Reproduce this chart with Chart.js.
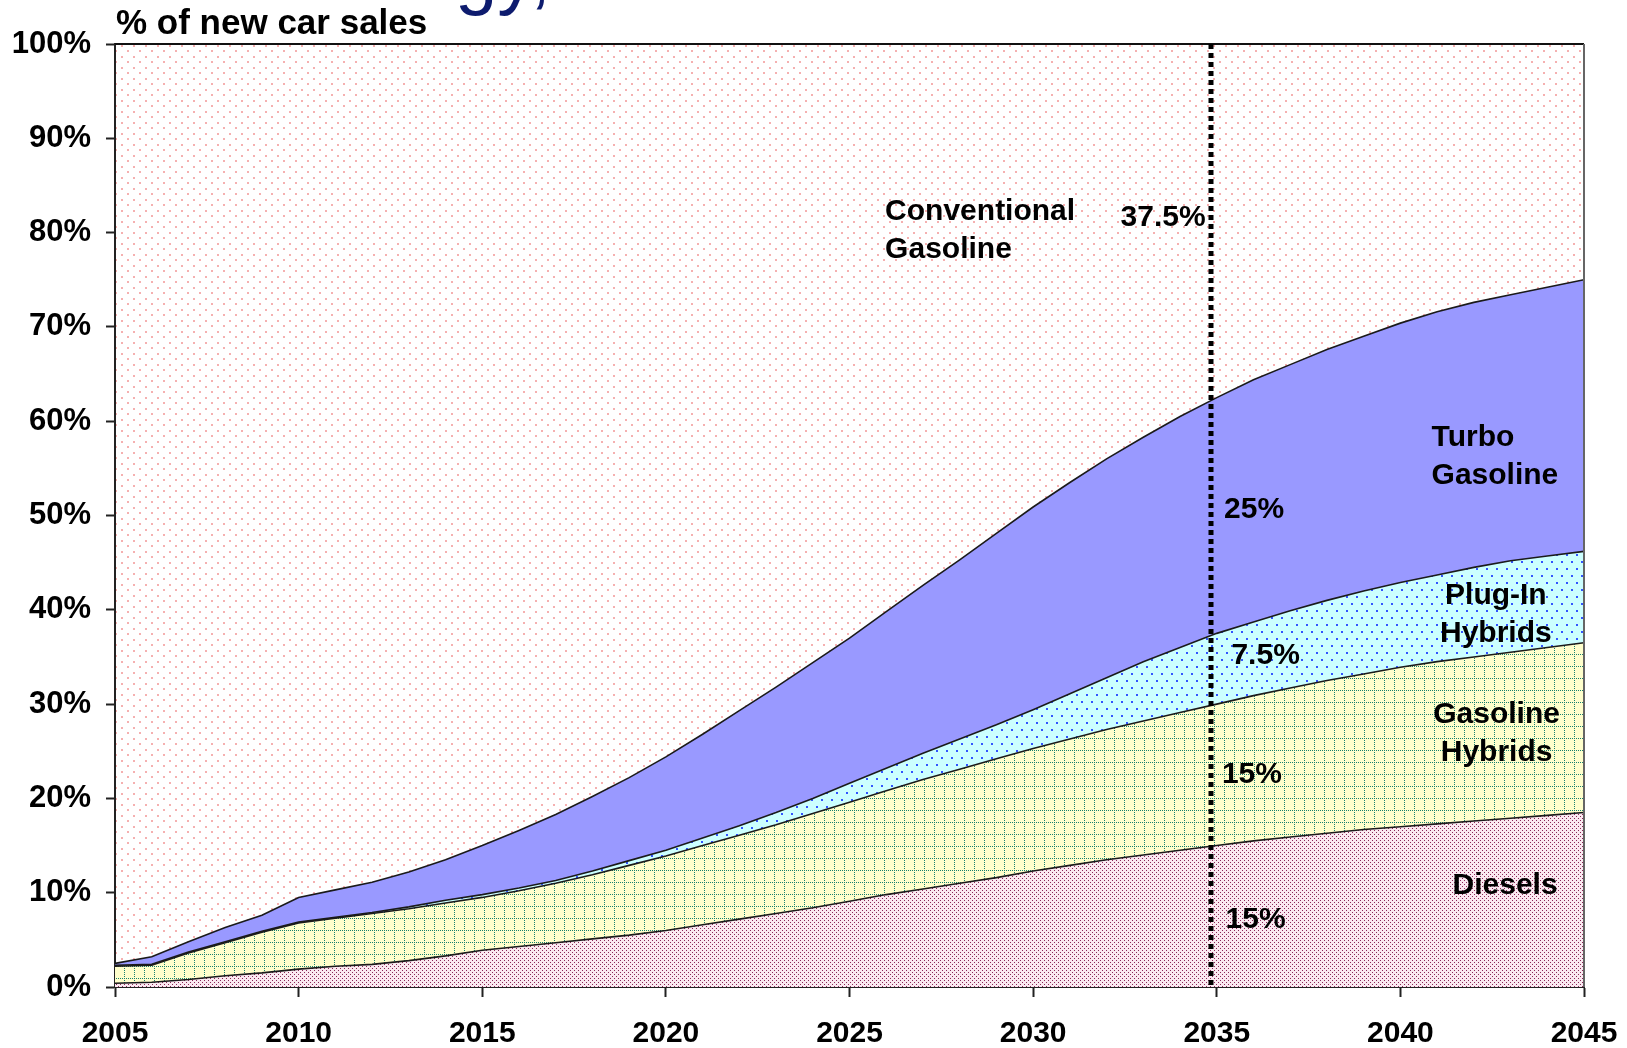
<!DOCTYPE html>
<html>
<head>
<meta charset="utf-8">
<title>% of new car sales</title>
<script src="https://cdn.jsdelivr.net/npm/chart.js@4.4.1/dist/chart.umd.min.js"></script>
<style>
  html, body { margin: 0; padding: 0; background: #fff; }
  #wrap { width: 1627px; height: 1048px; }
</style>
</head>
<body>
<div id="wrap"><canvas id="chart" width="1627" height="1048"></canvas></div>
<script>
var years = [2005, 2006, 2007, 2008, 2009, 2010, 2011, 2012, 2013, 2014,
             2015, 2016, 2017, 2018, 2019, 2020, 2021, 2022, 2023, 2024,
             2025, 2026, 2027, 2028, 2029, 2030, 2031, 2032, 2033, 2034,
             2035, 2036, 2037, 2038, 2039, 2040, 2041, 2042, 2043, 2044, 2045];

// share of new car sales, %
var diesels = [0.4, 0.5, 0.8, 1.2, 1.5, 1.9, 2.2, 2.4, 2.8, 3.3,
               3.9, 4.3, 4.7, 5.1, 5.5, 6.0, 6.6, 7.2, 7.8, 8.4,
               9.1, 9.8, 10.4, 11.0, 11.6, 12.3, 12.9, 13.5, 14.0, 14.5,
               15.0, 15.5, 15.9, 16.3, 16.7, 17.0, 17.3, 17.6, 17.9, 18.2, 18.5];
var gasolineHybrids = [1.8, 1.8, 2.8, 3.5, 4.3, 4.9, 5.1, 5.4, 5.5, 5.6,
                       5.6, 5.9, 6.3, 6.8, 7.4, 7.9, 8.4, 8.9, 9.4, 10.0,
                       10.5, 11.0, 11.6, 12.1, 12.6, 13.0, 13.4, 13.8, 14.2, 14.6,
                       15.0, 15.4, 15.8, 16.2, 16.5, 16.9, 17.2, 17.4, 17.6, 17.8, 18.0];
var plugInHybrids = [0.1, 0.1, 0.1, 0.1, 0.1, 0.1, 0.1, 0.1, 0.2, 0.3,
                     0.3, 0.3, 0.3, 0.4, 0.5, 0.6, 0.8, 1.0, 1.3, 1.6,
                     2.0, 2.4, 2.8, 3.2, 3.6, 4.1, 4.8, 5.5, 6.3, 6.9,
                     7.5, 7.8, 8.2, 8.5, 8.8, 9.0, 9.2, 9.5, 9.7, 9.7, 9.7];
var turboGasoline = [0.2, 0.8, 1.1, 1.5, 1.7, 2.6, 2.9, 3.2, 3.7, 4.3,
                     5.2, 6.1, 7.0, 7.9, 8.8, 9.9, 11.0, 12.2, 13.3, 14.4,
                     15.4, 16.6, 17.8, 19.0, 20.3, 21.5, 22.4, 23.2, 23.8, 24.5,
                     25.0, 25.7, 26.1, 26.6, 27.0, 27.5, 27.9, 28.1, 28.2, 28.5, 28.8];

var xTicks = [2005, 2010, 2015, 2020, 2025, 2030, 2035, 2040, 2045];
var yTicks = [0, 10, 20, 30, 40, 50, 60, 70, 80, 90, 100];
var markerYear = 2034.85;

var notes = [
  { lines: ['Conventional', 'Gasoline'], x: 2025.97, y: 82.5, align: 'left' },
  { lines: ['37.5%'], x: 2032.38, y: 81.9, align: 'left' },
  { lines: ['Turbo', 'Gasoline'], x: 2040.85, y: 58.6, align: 'left' },
  { lines: ['25%'], x: 2035.2, y: 50.9, align: 'left' },
  { lines: ['Plug-In', 'Hybrids'], x: 2042.6, y: 41.8, align: 'center' },
  { lines: ['7.5%'], x: 2035.4, y: 35.5, align: 'left' },
  { lines: ['Gasoline', 'Hybrids'], x: 2042.62, y: 29.2, align: 'center' },
  { lines: ['15%'], x: 2035.14, y: 22.8, align: 'left' },
  { lines: ['Diesels'], x: 2041.42, y: 11.1, align: 'left' },
  { lines: ['15%'], x: 2035.24, y: 7.4, align: 'left' }
];

var FONT = '"Liberation Sans", Arial, sans-serif';
var canvas = document.getElementById('chart');
var mainCtx = canvas.getContext('2d');

function pattern(w, h, bg, paint) {
  var c = document.createElement('canvas');
  c.width = w;
  c.height = h;
  var g = c.getContext('2d');
  if (bg) { g.fillStyle = bg; g.fillRect(0, 0, w, h); }
  paint(g);
  return mainCtx.createPattern(c, 'repeat');
}

var conventionalFill = pattern(12, 11, '#ffffff', function (g) {
  g.fillStyle = '#f5b0b0';
  g.fillRect(1, 1, 2, 2);
  g.fillRect(7, 6, 2, 2);
});
var plugInFill = pattern(10, 14, '#ccffff', function (g) {
  g.fillStyle = '#3355ff';
  g.fillRect(1, 1, 2, 2);
  g.fillRect(6, 8, 2, 2);
});
var hybridFill = pattern(10, 12, '#ffffcc', function (g) {
  g.fillStyle = '#17806f';
  for (var y = 0; y < 12; y += 2) g.fillRect(4, y, 1, 1);
  for (var x = 0; x < 10; x += 2) g.fillRect(x, 6, 1, 1);
});
var dieselFill = pattern(4, 4, '#fbe9f1', function (g) {
  g.fillStyle = '#8a2858';
  g.fillRect(0, 0, 1, 1);
  g.fillRect(2, 2, 1, 1);
});

function series(label, values, fill, bg) {
  return {
    label: label,
    data: years.map(function (yr, i) { return { x: yr, y: values[i] }; }),
    fill: fill,
    backgroundColor: bg,
    borderColor: '#1a1a1a',
    borderWidth: 1.6,
    pointRadius: 0,
    tension: 0
  };
}

var decor = {
  id: 'decor',
  beforeDraw: function (chart) {
    var ctx = chart.ctx, a = chart.chartArea;
    ctx.save();
    ctx.fillStyle = '#fff';
    ctx.fillRect(0, 0, chart.width, chart.height);
    ctx.fillStyle = conventionalFill;
    ctx.fillRect(a.left, a.top, a.right - a.left, a.bottom - a.top);
    // headline of the slide, cut off at the top edge
    ctx.fillStyle = '#0d1b6e';
    ctx.font = '76px ' + FONT;
    ctx.textBaseline = 'alphabetic';
    ctx.textAlign = 'left';
    ctx.fillText('gy,', 455, 0);
    ctx.fillStyle = '#000';
    ctx.font = 'bold 35px ' + FONT;
    ctx.fillText('% of new car sales', 116, 34);
    ctx.restore();
  },
  afterDatasetsDraw: function (chart) {
    var ctx = chart.ctx, a = chart.chartArea;
    var xs = chart.scales.x, ys = chart.scales.y;
    ctx.save();
    ctx.lineWidth = 2;
    ctx.strokeStyle = '#111';
    ctx.beginPath(); ctx.moveTo(a.left, a.top); ctx.lineTo(a.right, a.top); ctx.stroke();
    ctx.strokeStyle = '#666';
    ctx.beginPath(); ctx.moveTo(a.right, a.top); ctx.lineTo(a.right, a.bottom); ctx.stroke();

    var mx = Math.round(xs.getPixelForValue(markerYear));
    ctx.strokeStyle = '#000';
    ctx.lineWidth = 5;
    ctx.setLineDash([5, 4]);
    ctx.beginPath(); ctx.moveTo(mx, a.top); ctx.lineTo(mx, a.bottom); ctx.stroke();
    ctx.setLineDash([]);

    ctx.fillStyle = '#000';
    ctx.font = 'bold 30px ' + FONT;
    ctx.textBaseline = 'middle';
    notes.forEach(function (n) {
      ctx.textAlign = n.align;
      var px = xs.getPixelForValue(n.x), py = ys.getPixelForValue(n.y) + 3;
      n.lines.forEach(function (t, i) { ctx.fillText(t, px, py + i * 38); });
    });
    ctx.restore();
  }
};

new Chart(canvas, {
  type: 'line',
  data: {
    datasets: [
      series('Diesels', diesels, 'origin', dieselFill),
      series('Gasoline Hybrids', gasolineHybrids, '-1', hybridFill),
      series('Plug-In Hybrids', plugInHybrids, '-1', plugInFill),
      series('Turbo Gasoline', turboGasoline, '-1', '#9999ff')
    ]
  },
  options: {
    responsive: false,
    animation: false,
    devicePixelRatio: 1,
    layout: { padding: { top: 44, right: 43, left: 0, bottom: 0 } },
    plugins: {
      legend: { display: false },
      tooltip: { enabled: false },
      filler: { propagate: false, drawTime: 'beforeDatasetsDraw' }
    },
    scales: {
      x: {
        type: 'linear',
        min: 2005,
        max: 2045,
        z: 1,
        afterBuildTicks: function (s) { s.ticks = xTicks.map(function (v) { return { value: v }; }); },
        afterFit: function (s) { s.height = 61; s.paddingLeft = 0; s.paddingRight = 0; },
        ticks: {
          color: '#000',
          font: { family: FONT, size: 30, weight: 'bold' },
          padding: 19,
          maxRotation: 0,
          autoSkip: false,
          callback: function (v) { return String(v); }
        },
        grid: { drawOnChartArea: false, tickLength: 10, tickColor: '#222', tickWidth: 2 },
        border: { color: '#222', width: 2 }
      },
      y: {
        stacked: true,
        min: 0,
        max: 100,
        z: 1,
        afterBuildTicks: function (s) { s.ticks = yTicks.map(function (v) { return { value: v }; }); },
        afterFit: function (s) { s.width = 115; s.paddingTop = 0; s.paddingBottom = 0; },
        ticks: {
          color: '#000',
          font: { family: FONT, size: 31, weight: 'bold' },
          padding: 15,
          callback: function (v) { return v + '%'; }
        },
        grid: { drawOnChartArea: false, tickLength: 9, tickColor: '#222', tickWidth: 2 },
        border: { color: '#222', width: 2 }
      }
    }
  },
  plugins: [decor]
});
</script>
</body>
</html>
